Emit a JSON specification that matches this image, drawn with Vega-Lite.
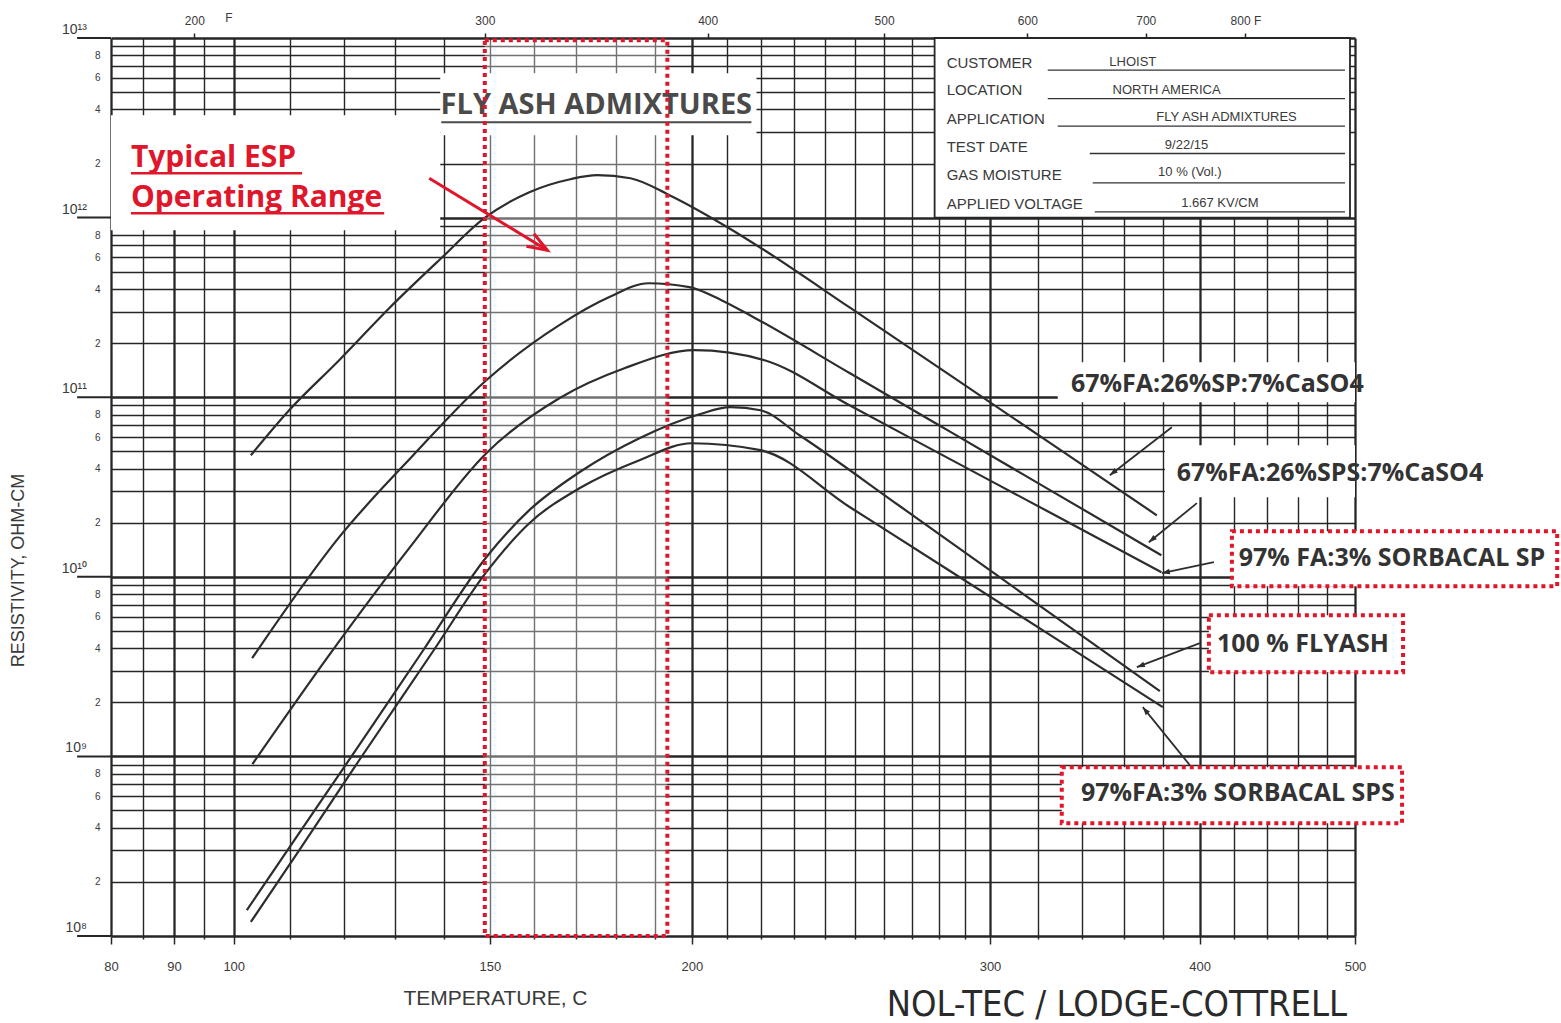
{
 "$schema": "https://vega.github.io/schema/vega-lite/v6.json",
 "width": 1244,
 "height": 898,
 "autosize": {"type": "none"},
 "padding": {"left": 111, "top": 38, "right": 206, "bottom": 87},
 "background": "white",
 "config": {
  "view": {"stroke": null},
  "axis": {"domain": false, "labelFont": "Liberation Sans", "titleFont": "Liberation Sans", "labelColor": "#3a3a3a", "titleColor": "#3a3a3a", "titleFontWeight": "normal", "labelFlush": false, "labelOverlap": false}
 },
 "datasets": {
  "curves": [
   {"series": "67%FA:26%SP:7%CaSO4", "K": 376.11, "R": 4.75e10},
   {"series": "67%FA:26%SP:7%CaSO4", "K": 382.94, "R": 8.46e10},
   {"series": "67%FA:26%SP:7%CaSO4", "K": 392.23, "R": 1.607e11},
   {"series": "67%FA:26%SP:7%CaSO4", "K": 401.98, "R": 3.13e11},
   {"series": "67%FA:26%SP:7%CaSO4", "K": 412.66, "R": 5.94e11},
   {"series": "67%FA:26%SP:7%CaSO4", "K": 421.93, "R": 9.92e11},
   {"series": "67%FA:26%SP:7%CaSO4", "K": 432.08, "R": 1.385e12},
   {"series": "67%FA:26%SP:7%CaSO4", "K": 441.75, "R": 1.636e12},
   {"series": "67%FA:26%SP:7%CaSO4", "K": 448.39, "R": 1.722e12},
   {"series": "67%FA:26%SP:7%CaSO4", "K": 456.75, "R": 1.657e12},
   {"series": "67%FA:26%SP:7%CaSO4", "K": 467.05, "R": 1.333e12},
   {"series": "67%FA:26%SP:7%CaSO4", "K": 483.23, "R": 8.84e11},
   {"series": "67%FA:26%SP:7%CaSO4", "K": 494.17, "R": 6.58e11},
   {"series": "67%FA:26%SP:7%CaSO4", "K": 521.41, "R": 3.15e11},
   {"series": "67%FA:26%SP:7%CaSO4", "K": 557.35, "R": 1.326e11},
   {"series": "67%FA:26%SP:7%CaSO4", "K": 598.59, "R": 5.57e10},
   {"series": "67%FA:26%SP:7%CaSO4", "K": 650.0, "R": 2.2e10},
   {"series": "67%FA:26%SPS:7%CaSO4", "K": 376.34, "R": 3.52e9},
   {"series": "67%FA:26%SPS:7%CaSO4", "K": 392.23, "R": 1.662e10},
   {"series": "67%FA:26%SPS:7%CaSO4", "K": 406.84, "R": 4.75e10},
   {"series": "67%FA:26%SPS:7%CaSO4", "K": 422.37, "R": 1.243e11},
   {"series": "67%FA:26%SPS:7%CaSO4", "K": 439.12, "R": 2.52e11},
   {"series": "67%FA:26%SPS:7%CaSO4", "K": 451.39, "R": 3.61e11},
   {"series": "67%FA:26%SPS:7%CaSO4", "K": 461.45, "R": 4.31e11},
   {"series": "67%FA:26%SPS:7%CaSO4", "K": 472.5, "R": 4.1e11},
   {"series": "67%FA:26%SPS:7%CaSO4", "K": 481.5, "R": 3.47e11},
   {"series": "67%FA:26%SPS:7%CaSO4", "K": 490.87, "R": 2.79e11},
   {"series": "67%FA:26%SPS:7%CaSO4", "K": 521.41, "R": 1.359e11},
   {"series": "67%FA:26%SPS:7%CaSO4", "K": 557.35, "R": 6.43e10},
   {"series": "67%FA:26%SPS:7%CaSO4", "K": 598.59, "R": 3.04e10},
   {"series": "67%FA:26%SPS:7%CaSO4", "K": 652.37, "R": 1.319e10},
   {"series": "97% FA:3% SORBACAL SP", "K": 376.39, "R": 9.05e8},
   {"series": "97% FA:3% SORBACAL SP", "K": 390.33, "R": 3.66e9},
   {"series": "97% FA:3% SORBACAL SP", "K": 406.03, "R": 1.443e10},
   {"series": "97% FA:3% SORBACAL SP", "K": 422.37, "R": 4.88e10},
   {"series": "97% FA:3% SORBACAL SP", "K": 439.12, "R": 9.87e10},
   {"series": "97% FA:3% SORBACAL SP", "K": 455.2, "R": 1.45e11},
   {"series": "97% FA:3% SORBACAL SP", "K": 473.89, "R": 1.827e11},
   {"series": "97% FA:3% SORBACAL SP", "K": 494.17, "R": 1.607e11},
   {"series": "97% FA:3% SORBACAL SP", "K": 521.41, "R": 8.98e10},
   {"series": "97% FA:3% SORBACAL SP", "K": 557.35, "R": 4.52e10},
   {"series": "97% FA:3% SORBACAL SP", "K": 598.59, "R": 2.28e10},
   {"series": "97% FA:3% SORBACAL SP", "K": 652.37, "R": 1.06e10},
   {"series": "100 % FLYASH", "K": 375.41, "R": 1.392e8},
   {"series": "100 % FLYASH", "K": 384.76, "R": 3.74e8},
   {"series": "100 % FLYASH", "K": 396.07, "R": 1.155e9},
   {"series": "100 % FLYASH", "K": 408.9, "R": 3.9e9},
   {"series": "100 % FLYASH", "K": 422.37, "R": 1.285e10},
   {"series": "100 % FLYASH", "K": 432.08, "R": 2.35e10},
   {"series": "100 % FLYASH", "K": 443.95, "R": 3.82e10},
   {"series": "100 % FLYASH", "K": 459.08, "R": 5.91e10},
   {"series": "100 % FLYASH", "K": 475.28, "R": 8.04e10},
   {"series": "100 % FLYASH", "K": 484.12, "R": 8.8e10},
   {"series": "100 % FLYASH", "K": 492.97, "R": 8.46e10},
   {"series": "100 % FLYASH", "K": 504.98, "R": 6.14e10},
   {"series": "100 % FLYASH", "K": 538.79, "R": 2.47e10},
   {"series": "100 % FLYASH", "K": 577.24, "R": 9.92e9},
   {"series": "100 % FLYASH", "K": 612.2, "R": 4.78e9},
   {"series": "100 % FLYASH", "K": 651.59, "R": 2.31e9},
   {"series": "97%FA:3% SORBACAL SPS", "K": 376.12, "R": 1.198e8},
   {"series": "97%FA:3% SORBACAL SPS", "K": 384.76, "R": 3.0e8},
   {"series": "97%FA:3% SORBACAL SPS", "K": 396.07, "R": 9.52e8},
   {"series": "97%FA:3% SORBACAL SPS", "K": 411.08, "R": 3.9e9},
   {"series": "97%FA:3% SORBACAL SPS", "K": 422.37, "R": 1.061e10},
   {"series": "97%FA:3% SORBACAL SPS", "K": 432.08, "R": 1.988e10},
   {"series": "97%FA:3% SORBACAL SPS", "K": 443.95, "R": 3.11e10},
   {"series": "97%FA:3% SORBACAL SPS", "K": 459.08, "R": 4.46e10},
   {"series": "97%FA:3% SORBACAL SPS", "K": 473.06, "R": 5.54e10},
   {"series": "97%FA:3% SORBACAL SPS", "K": 492.97, "R": 5.07e10},
   {"series": "97%FA:3% SORBACAL SPS", "K": 521.41, "R": 2.44e10},
   {"series": "97%FA:3% SORBACAL SPS", "K": 557.35, "R": 1.077e10},
   {"series": "97%FA:3% SORBACAL SPS", "K": 598.59, "R": 4.75e9},
   {"series": "97%FA:3% SORBACAL SPS", "K": 653.17, "R": 1.88e9}
  ],
  "masks": [
   {"K": 353.15, "K2": 412.45, "R": 3.72e12, "R2": 8.51e11},
   {"K": 412.45, "K2": 491.77, "R": 6.37e12, "R2": 2.876e12},
   {"K": 602.05, "K2": 773.15, "R": 1.566e11, "R2": 9.38e10},
   {"K": 654.24, "K2": 773.15, "R": 5.4e10, "R2": 2.77e10}
  ],
  "decadeTicks": [
   {"K": 348.0, "K2": 353.15, "R": 1e8},
   {"K": 348.0, "K2": 353.15, "R": 1e9},
   {"K": 348.0, "K2": 353.15, "R": 1e10},
   {"K": 348.0, "K2": 353.15, "R": 1e11},
   {"K": 348.0, "K2": 353.15, "R": 1e12},
   {"K": 348.0, "K2": 353.15, "R": 1e13}
  ],
  "decadeLabels": [
   {"text": "10⁸", "K": 349.48, "R": 1e8},
   {"text": "10⁹", "K": 349.48, "R": 1e9},
   {"text": "10¹⁰", "K": 349.48, "R": 1e10},
   {"text": "10¹¹", "K": 349.48, "R": 1e11},
   {"text": "10¹²", "K": 349.48, "R": 1e12},
   {"text": "10¹³", "K": 349.48, "R": 1e13}
  ],
  "espbox": [{"K": 422.04, "K2": 466.48, "R": 9.72e12, "R2": 1.0e8}],
  "infobox": [{"K": 551.5, "K2": 769.47, "R": 1e13, "R2": 1e12}],
  "labelboxes": [
   {"K": 691.75, "K2": 958.4, "R": 1.794e10, "R2": 8.87e9},
   {"K": 678.38, "K2": 810.37, "R": 6.11e9, "R2": 2.94e9},
   {"K": 603.86, "K2": 809.58, "R": 8.71e8, "R2": 4.25e8}
  ],
  "labels": [
   {"text": "67%FA:26%SP:7%CaSO4", "K": 683.25, "R": 1.181e11},
   {"text": "67%FA:26%SPS:7%CaSO4", "K": 755.1, "R": 3.77e10},
   {"text": "97% FA:3% SORBACAL SP", "K": 801.5, "R": 1.27e10},
   {"text": "100 % FLYASH", "K": 736.5, "R": 4.21e9},
   {"text": "97%FA:3% SORBACAL SPS", "K": 695.3, "R": 6.24e8}
  ],
  "arrows": [
   {"id": "a1", "K": 657.94, "R": 6.81e10, "K2": 626.33, "R2": 3.68e10},
   {"id": "a2", "K": 671.63, "R": 2.57e10, "K2": 645.86, "R2": 1.558e10},
   {"id": "a3", "K": 681.25, "R": 1.206e10, "K2": 652.63, "R2": 1.047e10},
   {"id": "a4", "K": 673.31, "R": 4.27e9, "K2": 639.72, "R2": 3.14e9},
   {"id": "a5", "K": 667.74, "R": 8.93e8, "K2": 642.76, "R2": 1.88e9}
  ],
  "heads": [
   {"id": "a1", "K": 626.33, "R": 3.68e10},
   {"id": "a2", "K": 645.86, "R": 1.558e10},
   {"id": "a3", "K": 652.63, "R": 1.047e10},
   {"id": "a4", "K": 639.72, "R": 3.14e9},
   {"id": "a5", "K": 642.76, "R": 1.88e9}
  ],
  "redarrow": [{"K": 410.14, "R": 1.657e12, "K2": 436.28, "R2": 6.58e11}],
  "redhead": [{"K": 436.28, "R": 6.58e11}],
  "esptext": [
   {"text": "Typical ESP", "K": 356.25, "R": 2.141e12},
   {"text": "Operating Range", "K": 356.25, "R": 1.283e12}
  ],
  "redUnderlines": [
   {"K": 356.25, "K2": 385.31, "R": 1.767e12},
   {"K": 356.25, "K2": 400.99, "R": 1.058e12}
  ],
  "title": [{"text": "FLY ASH ADMIXTURES", "K": 448.13, "R": 4.23e12}],
  "titleUnderline": [{"K": 412.66, "K2": 490.27, "R": 3.4e12}],
  "infoLabels": [
   {"text": "CUSTOMER", "K": 556.08, "R": 7.3e12},
   {"text": "LOCATION", "K": 556.08, "R": 5.12e12},
   {"text": "APPLICATION", "K": 556.08, "R": 3.56e12},
   {"text": "TEST DATE", "K": 556.08, "R": 2.476e12},
   {"text": "GAS MOISTURE", "K": 556.08, "R": 1.722e12},
   {"text": "APPLIED VOLTAGE", "K": 556.08, "R": 1.198e12}
  ],
  "infoValues": [
   {"text": "LHOIST", "K": 637.71, "R": 7.36e12},
   {"text": "NORTH AMERICA", "K": 655.13, "R": 5.12e12},
   {"text": "FLY ASH ADMIXTURES", "K": 688.6, "R": 3.61e12},
   {"text": "9/22/15", "K": 665.91, "R": 2.53e12},
   {"text": "10 % (Vol.)", "K": 667.74, "R": 1.797e12},
   {"text": "1.667 KV/CM", "K": 684.7, "R": 1.207e12}
  ],
  "infoLines": [
   {"K": 597.6, "K2": 765.81, "R": 6.62e12},
   {"K": 597.6, "K2": 765.81, "R": 4.6e12},
   {"K": 602.05, "K2": 765.81, "R": 3.23e12},
   {"K": 616.75, "K2": 765.81, "R": 2.275e12},
   {"K": 618.16, "K2": 765.81, "R": 1.56e12},
   {"K": 619.12, "K2": 765.81, "R": 1.076e12}
  ],
  "footer": [{"text": "NOL-TEC / LODGE-COTTRELL", "K": 629.76, "R": 4.12e7}],
  "ftext": [{"text": "F", "K": 372.34, "R": 1.29e13}]
 },
 "encoding": {
  "x": {"field": "K", "type": "quantitative", "scale": {"type": "pow", "exponent": -1, "domain": [353.15, 773.15], "zero": false, "nice": false}, "axis": null},
  "y": {"field": "R", "type": "quantitative", "scale": {"type": "log", "domain": [1e8, 1e13], "nice": false}, "axis": null}
 },
 "layer": [
  {
   "data": {"name": "masks"},
   "mark": {"type": "rect", "fill": "white", "stroke": null},
   "encoding": {
    "x": {"field": "K", "type": "quantitative", "scale": {"type": "pow", "exponent": -1, "domain": [353.15, 773.15], "zero": false, "nice": false},
     "axis": {"orient": "top", "values": [366.48, 422.04, 477.59, 533.15, 588.71, 644.26, 699.82], "grid": false, "ticks": true, "tickSize": 5, "tickColor": "#262626", "tickWidth": 1.5,
      "labelExpr": "round((datum.value-273.15)*1.8+32) == 800 ? '800 F' : '' + round((datum.value-273.15)*1.8+32)", "labelFontSize": 12, "labelPadding": 6, "title": null}},
    "x2": {"field": "K2"},
    "y2": {"field": "R2"}
   }
  },
  {
   "data": {"name": "decadeTicks"},
   "mark": {"type": "rule", "color": "#262626", "strokeWidth": 2},
   "encoding": {
    "x2": {"field": "K2"},
    "y": {"field": "R", "type": "quantitative", "scale": {"type": "log", "domain": [1e8, 1e13], "nice": false},
     "axis": {
      "orient": "left",
      "values": [1e8, 2e8, 3e8, 4e8, 5e8, 6e8, 7e8, 8e8, 9e8, 1e9, 2e9, 3e9, 4e9, 5e9, 6e9, 7e9, 8e9, 9e9, 1e10, 2e10, 3e10, 4e10, 5e10, 6e10, 7e10, 8e10, 9e10, 1e11, 2e11, 3e11, 4e11, 5e11, 6e11, 7e11, 8e11, 9e11, 1e12, 2e12, 3e12, 4e12, 5e12, 6e12, 7e12, 8e12, 9e12, 1e13],
      "grid": true,
      "gridColor": "#262626",
      "gridWidth": {"condition": {"test": "indexof([100000000,1000000000,10000000000,100000000000,1000000000000,10000000000000], datum.value) >= 0", "value": 2.3}, "value": 1.4},
      "ticks": false,
      "labelExpr": "indexof([100000000,1000000000,10000000000,100000000000,1000000000000,10000000000000], datum.value) >= 0 ? '' : (indexof([2,4,6,8], round(datum.value / (datum.value < 1000000000 ? 100000000 : datum.value < 10000000000 ? 1000000000 : datum.value < 100000000000 ? 10000000000 : datum.value < 1000000000000 ? 100000000000 : 1000000000000))) >= 0 ? '' + round(datum.value / (datum.value < 1000000000 ? 100000000 : datum.value < 10000000000 ? 1000000000 : datum.value < 100000000000 ? 10000000000 : datum.value < 1000000000000 ? 100000000000 : 1000000000000)) : '')",
      "labelFontSize": 10,
      "labelBaseline": "middle",
      "labelPadding": 11,
      "title": "RESISTIVITY, OHM-CM",
      "titleFontSize": 18,
      "titleX": -93,
      "titleY": 532,
      "titleAlign": "center",
      "titleBaseline": "middle"
     }}
   }
  },
  {
   "data": {"name": "decadeLabels"},
   "mark": {"type": "text", "font": "Liberation Sans", "fontSize": 14, "color": "#3a3a3a", "align": "right", "baseline": "bottom", "dy": -1},
   "encoding": {"text": {"field": "text"}}
  },
  {
   "data": {"name": "espbox"},
   "mark": {"type": "rect", "fill": "white", "fillOpacity": 0.35, "stroke": null},
   "encoding": {"x2": {"field": "K2"}, "y2": {"field": "R2"}}
  },
  {
   "data": {"name": "infobox"},
   "mark": {"type": "rect", "fill": "white", "stroke": "#262626", "strokeWidth": 1.8},
   "encoding": {"x2": {"field": "K2"}, "y2": {"field": "R2"}}
  },
  {
   "data": {"name": "labelboxes"},
   "mark": {"type": "rect", "fill": "white", "stroke": "#e0162b", "strokeWidth": 4, "strokeDash": [4, 4]},
   "encoding": {"x2": {"field": "K2"}, "y2": {"field": "R2"}}
  },
  {
   "data": {"name": "curves"},
   "mark": {"type": "line", "interpolate": "monotone", "color": "#2d2d2d", "strokeWidth": 2.2},
   "encoding": {
    "x": {"field": "K", "type": "quantitative", "scale": {"type": "pow", "exponent": -1, "domain": [353.15, 773.15], "zero": false, "nice": false},
     "axis": {
      "orient": "bottom",
      "values": [353.15, 358.15, 363.15, 368.15, 373.15, 383.15, 393.15, 403.15, 413.15, 423.15, 433.15, 443.15, 453.15, 463.15, 473.15, 483.15, 493.15, 503.15, 513.15, 523.15, 533.15, 543.15, 553.15, 563.15, 573.15, 593.15, 613.15, 633.15, 653.15, 673.15, 693.15, 713.15, 733.15, 753.15, 773.15],
      "grid": true,
      "gridColor": "#262626",
      "gridWidth": {"condition": {"test": "indexof([80,90,100,200,300,400,500], round(datum.value-273.15)) >= 0", "value": 2.3}, "value": 1.4},
      "ticks": true,
      "tickColor": "#262626",
      "tickWidth": 1.5,
      "tickSize": {"condition": {"test": "indexof([80,90,100,150,200,300,400,500], round(datum.value-273.15)) >= 0", "value": 8}, "value": 3},
      "labelExpr": "indexof([80,90,100,150,200,300,400,500], round(datum.value-273.15)) >= 0 ? '' + round(datum.value-273.15) : ''",
      "labelFontSize": 13,
      "labelPadding": 16,
      "title": "TEMPERATURE, C",
      "titleFontSize": 21,
      "titleX": 384,
      "titleY": 62,
      "titleAlign": "center",
      "titleBaseline": "middle"
     }},
    "detail": {"field": "series", "type": "nominal"}
   }
  },
  {
   "data": {"name": "title"},
   "mark": {"type": "text", "font": "Open Sans", "fontWeight": "bold", "fontSize": 29, "color": "#4a4a4a", "align": "center", "baseline": "middle"},
   "encoding": {"text": {"field": "text"}}
  },
  {
   "data": {"name": "titleUnderline"},
   "mark": {"type": "rule", "color": "#4a4a4a", "strokeWidth": 2},
   "encoding": {"x2": {"field": "K2"}}
  },
  {
   "data": {"name": "esptext"},
   "mark": {"type": "text", "font": "Open Sans", "fontWeight": "bold", "fontSize": 30, "color": "#e0162b", "align": "left", "baseline": "middle"},
   "encoding": {"text": {"field": "text"}}
  },
  {
   "data": {"name": "redUnderlines"},
   "mark": {"type": "rule", "color": "#e0162b", "strokeWidth": 2.5},
   "encoding": {"x2": {"field": "K2"}}
  },
  {
   "data": {"name": "espbox"},
   "mark": {"type": "rect", "fill": null, "fillOpacity": 0, "stroke": "#e0162b", "strokeWidth": 4, "strokeDash": [4, 4]},
   "encoding": {"x2": {"field": "K2"}, "y2": {"field": "R2"}}
  },
  {
   "data": {"name": "redarrow"},
   "mark": {"type": "rule", "color": "#e0162b", "strokeWidth": 3},
   "encoding": {"x2": {"field": "K2"}, "y2": {"field": "R2"}}
  },
  {
   "data": {"name": "redhead"},
   "mark": {"type": "point", "shape": "M-2,-0.73L0,0L-2,0.73", "filled": false, "stroke": "#e0162b", "strokeWidth": 3, "size": 400, "angle": 31, "opacity": 1}
  },
  {
   "data": {"name": "arrows"},
   "mark": {"type": "rule", "color": "#2d2d2d", "strokeWidth": 1.8},
   "encoding": {"x2": {"field": "K2"}, "y2": {"field": "R2"}}
  },
  {
   "data": {"name": "heads"},
   "transform": [{"filter": "datum.id == 'a1'"}],
   "mark": {"type": "point", "shape": "M0,0L-2,-0.7L-2,0.7Z", "filled": true, "color": "#2d2d2d", "size": 64, "angle": 142, "opacity": 1}
  },
  {
   "data": {"name": "heads"},
   "transform": [{"filter": "datum.id == 'a2'"}],
   "mark": {"type": "point", "shape": "M0,0L-2,-0.7L-2,0.7Z", "filled": true, "color": "#2d2d2d", "size": 64, "angle": 141, "opacity": 1}
  },
  {
   "data": {"name": "heads"},
   "transform": [{"filter": "datum.id == 'a3'"}],
   "mark": {"type": "point", "shape": "M0,0L-2,-0.7L-2,0.7Z", "filled": true, "color": "#2d2d2d", "size": 64, "angle": 168, "opacity": 1}
  },
  {
   "data": {"name": "heads"},
   "transform": [{"filter": "datum.id == 'a4'"}],
   "mark": {"type": "point", "shape": "M0,0L-2,-0.7L-2,0.7Z", "filled": true, "color": "#2d2d2d", "size": 64, "angle": 159, "opacity": 1}
  },
  {
   "data": {"name": "heads"},
   "transform": [{"filter": "datum.id == 'a5'"}],
   "mark": {"type": "point", "shape": "M0,0L-2,-0.7L-2,0.7Z", "filled": true, "color": "#2d2d2d", "size": 64, "angle": 231, "opacity": 1}
  },
  {
   "data": {"name": "labels"},
   "mark": {"type": "text", "font": "Open Sans", "fontWeight": "bold", "fontSize": 25, "color": "#333333", "align": "center", "baseline": "middle"},
   "encoding": {"text": {"field": "text"}}
  },
  {
   "data": {"name": "infoLines"},
   "mark": {"type": "rule", "color": "#333333", "strokeWidth": 1.3},
   "encoding": {"x2": {"field": "K2"}}
  },
  {
   "data": {"name": "infoLabels"},
   "mark": {"type": "text", "font": "Liberation Sans", "fontSize": 15, "color": "#3a3a3a", "align": "left", "baseline": "middle"},
   "encoding": {"text": {"field": "text"}}
  },
  {
   "data": {"name": "infoValues"},
   "mark": {"type": "text", "font": "Liberation Sans", "fontSize": 13, "color": "#3a3a3a", "align": "center", "baseline": "middle"},
   "encoding": {"text": {"field": "text"}}
  },
  {
   "data": {"name": "footer"},
   "mark": {"type": "text", "font": "Liberation Sans Narrow, DejaVu Sans Condensed, Liberation Sans", "fontSize": 36, "color": "#2a2a2a", "align": "center", "baseline": "middle"},
   "encoding": {"text": {"field": "text"}}
  },
  {
   "data": {"name": "ftext"},
   "mark": {"type": "text", "font": "Liberation Sans", "fontSize": 12, "color": "#3a3a3a", "align": "center", "baseline": "middle"},
   "encoding": {"text": {"field": "text"}}
  }
 ],
 "resolve": {"axis": {"x": "independent", "y": "independent"}}
}
